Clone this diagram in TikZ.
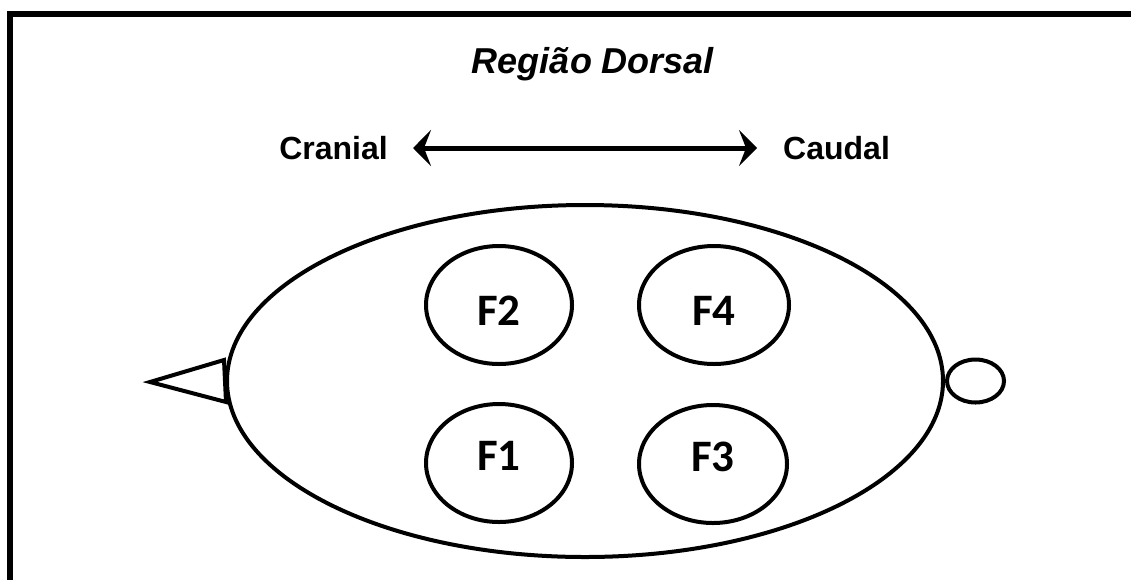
\documentclass[tikz,border=0pt]{standalone}
\usepackage{fontspec}
\setmainfont{Liberation Sans}
\newfontfamily\labelfont{Carlito}
\usetikzlibrary{arrows.meta,shapes.geometric}

\tikzset{
  outline/.style={line width=4pt, draw=black},
  spot/.style={ellipse, outline, inner sep=0pt, minimum width=146pt, minimum height=118pt,
    font=\labelfont\bfseries\fontsize{45}{50}\selectfont},
  % label sits lower in the upper spots and higher in the lower ones
  upper/.style={text height=41pt, text depth=0pt},
  lower/.style={text height=29pt, text depth=15pt},
  dirlabel/.style={inner sep=0pt, font=\bfseries\fontsize{32}{38}\selectfont},
  axis/.style={line width=5pt, {Stealth[length=18pt,width=36pt,inset=7pt]}-{Stealth[length=18pt,width=36pt,inset=7pt]},
    shorten <=25pt, shorten >=26pt}
}

\begin{document}
\begin{tikzpicture}[x=1pt, y=-1pt]
  \useasboundingbox (0,0) rectangle (1131,579);

  % frame (top and left edges)
  \draw[line width=6pt, line cap=rect] (10,579) -- (10,14) -- (1131,14);

  % headings
  \node[anchor=base, inner sep=0pt, font=\bfseries\itshape\fontsize{36}{42}\selectfont]
    (title) at (593,73) {Região Dorsal};
  \node[dirlabel, anchor=east] (cranial) at (388,148) {Cranial};
  \node[dirlabel, anchor=west] (caudal) at (783,148) {Caudal};
  \draw[axis] (cranial.east) -- (caudal.west);

  % body outline
  \node[ellipse, outline, inner sep=0pt, minimum width=716pt, minimum height=352pt]
    (body) at (585,381) {};

  % head (triangle) and tail (small ring)
  \draw[outline, line join=miter] (body.west) ++(-1,-21) coordinate (ht)
    -- (150,382) coordinate (hn) -- ++(76,20) coordinate (hb) -- cycle;
  \node[ellipse, outline, inner sep=0pt, minimum width=57pt, minimum height=43pt,
    anchor=west] (tail) at (body.east) {};

  % sampling areas
  \node[spot, upper] (F2) at (499,305) {F2};
  \node[spot, upper, minimum width=150pt] (F4) at (714,305) {F4};
  \node[spot, lower] (F1) at (499,463) {F1};
  \node[spot, lower, minimum width=148pt] (F3) at (713,464) {F3};
\end{tikzpicture}
\end{document}
